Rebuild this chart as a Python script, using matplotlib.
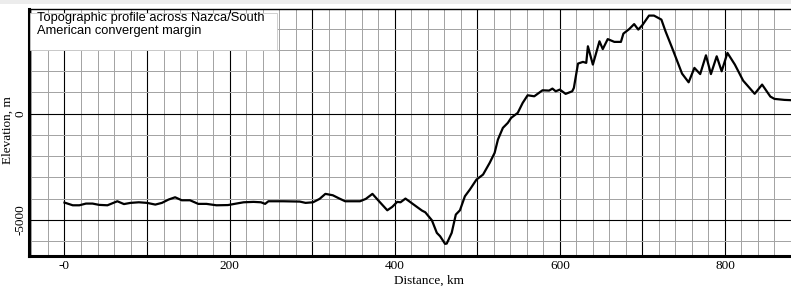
import numpy as np
import matplotlib
matplotlib.use('Agg')
import matplotlib.pyplot as plt
from matplotlib.patches import Rectangle

# profile: distance [km], elevation [m]
distancia = [0, 10, 18, 26, 34, 42, 52, 64, 72, 80, 90, 100, 110, 118, 126, 134, 142, 152,
             162, 172, 184, 198, 208, 217, 229, 238, 243, 247, 265, 285, 292, 301, 309, 316,
             325, 333, 340, 358, 365, 373, 381, 391, 397, 403, 407, 413, 423, 433, 437, 445,
             451, 455, 461, 463, 469, 474, 479, 485, 491, 499, 507, 515, 521, 525, 531, 537,
             541, 549, 555, 561, 569, 579, 587, 591, 595, 600, 607, 615, 617, 622, 628, 632,
             634, 640, 648, 652, 658, 666, 674, 677, 684, 690, 695, 700, 708, 714, 723, 728,
             736, 748, 756, 763, 770, 777, 783, 790, 796, 803, 812, 822, 836, 845, 855, 860,
             872, 880]
elevacion = [-4187, -4314, -4314, -4234, -4234, -4295, -4314, -4125, -4257, -4201, -4173,
             -4201, -4281, -4201, -4045, -3937, -4078, -4078, -4248, -4248, -4314, -4304,
             -4234, -4173, -4154, -4173, -4248, -4125, -4125, -4140, -4201, -4173, -4013,
             -3777, -3843, -3998, -4125, -4125, -4013, -3777, -4125, -4549, -4389, -4154,
             -4173, -3998, -4281, -4563, -4643, -5019, -5612, -5772, -6129, -6115, -5612,
             -4751, -4549, -3890, -3575, -3105, -2869, -2319, -1849, -1223, -673, -437,
             -202, 33, 503, 861, 814, 1096, 1082, 1176, 1049, 1129, 927, 1049, 1209, 2352,
             2432, 2385, 3166, 2305, 3401, 3034, 3504, 3373, 3373, 3763, 3975, 4210, 3951,
             4163, 4610, 4610, 4422, 3871, 3091, 1882, 1472, 2150, 1858, 2742, 1858, 2695,
             1990, 2855, 2305, 1552, 931, 1364, 800, 691, 644, 630]

etiquetas_x = ['-0', '', '200', '', '400', '', '600', '', '800']
titulo = 'Topographic profile across Nazca/South\nAmerican convergent margin'

W, H = 791, 286
fig = plt.figure(figsize=(W / 100, H / 100), dpi=100)
ax = fig.add_axes([29 / W, 1 - 256 / H, 1 - 29 / W, (256 - 9) / H])

ax.plot(distancia, elevacion, color='black', lw=1.6, zorder=4)

ax.set_xlim(-43, 873)
ax.set_ylim(-6700, 4920)

ax.set_xticks(np.arange(0, 801, 100))
ax.set_xticklabels(etiquetas_x)
ax.set_xticks(np.arange(-40, 881, 20), minor=True)
ax.set_yticks([-5000, 0])
ax.set_yticklabels(['-5000', '0'])
ax.set_yticks(np.arange(-6000, 4001, 1000), minor=True)

ax.set_axisbelow(True)
ax.grid(which='minor', color='#a4a4a4', lw=0.72)
ax.grid(which='major', color='black', lw=0.8)
ax.tick_params(which='both', length=0)
ax.tick_params(axis='x', pad=3)
ax.tick_params(axis='y', pad=1.5)

serif = 'Liberation Serif'
for lab in ax.get_xticklabels():
    lab.set_fontfamily(serif)
    lab.set_fontsize(9.5)
for lab in ax.get_yticklabels():
    lab.set_fontfamily(serif)
    lab.set_fontsize(9.5)
    lab.set_rotation(90)
    lab.set_va('center')

ax.set_xlabel('Distance, km', fontfamily=serif, fontsize=9.5)
ax.xaxis.set_label_coords((429 - 29) / 762, (256 - 275) / 247)
ax.set_ylabel('Elevation, m', fontfamily=serif, fontsize=9.5)
ax.yaxis.set_label_coords((14 - 29) / 762, (256 - 130) / 247)

for s in ['left', 'bottom']:
    ax.spines[s].set_linewidth(2.2)
ax.spines['top'].set_linewidth(1.0)
ax.spines['right'].set_visible(False)

# white box behind the title
ax.add_patch(Rectangle((30 / W, 1 - 50 / H), 247 / W, 37 / H, transform=fig.transFigure,
                       facecolor='white', edgecolor='#c8c8c8', lw=0.6, zorder=3, clip_on=False))
fig.text(37 / W, 1 - 12 / H, titulo, va='top', ha='left', fontfamily='Liberation Sans',
         fontsize=9.3, linespacing=1.15, zorder=5)

fig.patches.append(Rectangle((0, 1 - 4 / H), 1, 4 / H, transform=fig.transFigure,
                             facecolor='#ececec', edgecolor='none', zorder=0))

fig.savefig('out.png', dpi=100)
